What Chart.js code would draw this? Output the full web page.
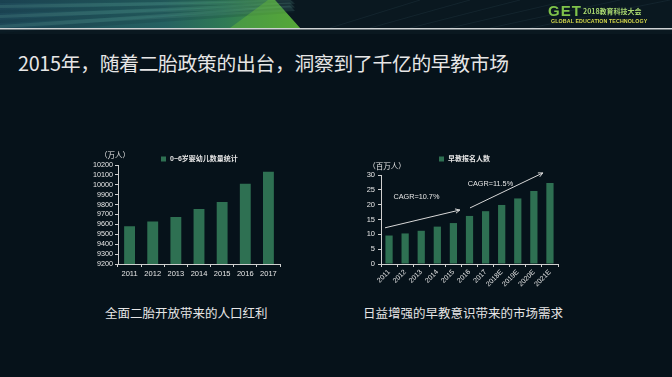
<!DOCTYPE html>
<html><head><meta charset="utf-8">
<script src="https://cdn.jsdelivr.net/npm/chart.js@4/dist/chart.umd.min.js"></script>
<style>
html,body{margin:0;padding:0;background:#06121a;}
#page{position:relative;width:672px;height:377px;background:#06121a;overflow:hidden;font-family:'Noto Sans CJK SC','Liberation Sans',sans-serif;}
#hdr{position:absolute;left:0;top:0;}
.t{position:absolute;white-space:nowrap;color:#e6e6e6;}
#title{left:18px;top:50px;font-size:19.8px;line-height:26px;letter-spacing:-0.3px;}
#s1{left:105px;top:304px;font-size:12.5px;line-height:18px;}
#s2{left:363px;top:304px;font-size:12.5px;line-height:18px;}
#c1wrap{position:absolute;left:88px;top:145px;width:200px;height:140px;}
#c2wrap{position:absolute;left:355px;top:150px;width:210px;height:140px;}
#logo1{position:absolute;left:548px;top:2px;font-family:'Liberation Sans',sans-serif;font-weight:bold;font-size:15px;color:#7fc24a;letter-spacing:1px;}
#logo2{position:absolute;left:583px;top:6px;font-size:7px;color:#a9d870;font-weight:bold;}
#logo3{position:absolute;left:551px;top:18px;font-family:'Liberation Sans',sans-serif;font-size:5.3px;font-weight:bold;color:#d6d84a;letter-spacing:0.1px;}
</style></head>
<body><div id="page">
<canvas id="hdr" width="672" height="34"></canvas>
<div id="logo1">GET</div>
<div id="logo2">2018教育科技大会</div>
<div id="logo3">GLOBAL EDUCATION TECHNOLOGY</div>
<div class="t" id="title">2015年，随着二胎政策的出台，洞察到了千亿的早教市场</div>
<div id="c1wrap"><canvas id="c1"></canvas></div>
<div id="c2wrap"><canvas id="c2"></canvas></div>
<div class="t" id="s1">全面二胎开放带来的人口红利</div>
<div class="t" id="s2">日益增强的早教意识带来的市场需求</div>
</div>
<script>
// ---------- data ----------
const years1 = ['2011','2012','2013','2014','2015','2016','2017'];
const infants = [9582, 9630, 9676, 9756, 9826, 10010, 10132];
const label1 = '0~6岁婴幼儿数量统计';
const unit1 = '（万人）';

const years2 = ['2011','2012','2013','2014','2015','2016','2017','2018E','2019E','2020E','2021E'];
const enrol = [9.6, 10.3, 11.2, 12.6, 13.8, 16.2, 17.8, 19.9, 22.1, 24.6, 27.3];
const label2 = '早教报名人数';
const unit2 = '（百万人）';
const cagrTexts = ['CAGR=10.7%', 'CAGR=11.5%'];
// arrow endpoints in data space [index, value]
const arrows = [[[-0.25, 12.2],[4.4, 18.2]], [[5.03, 18.9],[9.56, 30.7]]];
const cagrPos = [[1.7, 22.6],[6.3, 27.0]];

// ---------- header decoration ----------
(function(){
  const c = document.getElementById('hdr').getContext('2d');
  c.fillStyle = '#0a1820'; c.fillRect(0,0,672,34);
  const g = c.createLinearGradient(0,0,300,0);
  g.addColorStop(0,'#1d4757'); g.addColorStop(0.55,'#256161'); g.addColorStop(0.75,'#2f7a55'); g.addColorStop(1,'#4c9c36');
  c.fillStyle = g;
  c.beginPath(); c.moveTo(0,0); c.lineTo(275,0); c.lineTo(300,28); c.lineTo(0,28); c.closePath(); c.fill();
  c.globalAlpha = 0.18;
  for (let i=0;i<7;i++){
    c.fillStyle = i%2? '#6fb0a0':'#0e2f3a';
    c.beginPath(); c.moveTo(0,i*5); c.lineTo(290,-2+i*1.5); c.lineTo(295,2+i*1.8); c.lineTo(0,i*5+3); c.closePath(); c.fill();
  }
  c.globalAlpha = 0.5;
  c.fillStyle = '#5fb33a';
  c.beginPath(); c.moveTo(230,28); c.lineTo(268,0); c.lineTo(275,0); c.lineTo(300,28); c.closePath(); c.fill();
  c.globalAlpha = 0.15; c.strokeStyle = '#4a6a7a'; c.lineWidth = 1;
  for (let i=0;i<6;i++){ c.beginPath(); c.moveTo(330+i*40,28); c.lineTo(420+i*50,0); c.stroke(); }
  c.globalAlpha = 1;
  c.fillStyle = '#cfd3d4'; c.fillRect(0,28,672,1.5);
})();

// ---------- charts ----------
const FONT = "'Liberation Sans','Noto Sans CJK SC',sans-serif";
const AX = '#d0d0d0';
const BAR = '#2e7052';
const plain = v => String(v);

function deco(legendX, legendY, unit, unitX, unitY, extra){
  return {
    id:'deco',
    afterDraw(chart){
      const c = chart.ctx, a = chart.chartArea, ds = chart.data.datasets[0];
      c.save();
      c.fillStyle = ds.backgroundColor;
      c.fillRect(a.left+legendX, a.top+legendY-2.5, 5, 5);
      c.fillStyle = '#e6e6e6';
      c.font = 'bold 7px ' + FONT;
      c.textBaseline = 'middle'; c.textAlign = 'left';
      c.fillText(ds.label, a.left+legendX+9, a.top+legendY);
      c.font = '7.5px ' + FONT;
      c.textAlign = 'center';
      c.fillText(unit, a.left+unitX, a.top+unitY);
      if (extra) extra(chart);
      c.restore();
    }
  };
}

new Chart(document.getElementById('c1'), {
  type:'bar',
  data:{labels:years1, datasets:[{label:label1, data:infants, backgroundColor:BAR, barPercentage:0.47, categoryPercentage:1}]},
  options:{
    responsive:true, maintainAspectRatio:false, animation:false,
    layout:{padding:{top:20,right:8,bottom:0,left:0}},
    plugins:{legend:{display:false}, tooltip:{enabled:false}},
    scales:{
      x:{grid:{drawOnChartArea:false, color:AX, tickLength:3}, border:{color:AX, width:1},
         ticks:{color:'#e6e6e6', font:{size:7.5, family:FONT}, padding:2, maxRotation:0}, afterFit(s){s.height=21;}},
      y:{min:9200, max:10200, grid:{drawOnChartArea:false, color:AX, tickLength:3}, border:{color:AX, width:1},
         ticks:{stepSize:100, autoSkip:false, callback:plain, color:'#e6e6e6', font:{size:7.2, family:FONT}, padding:2}, afterFit(s){s.width=30;}}
    }
  },
  plugins:[deco(43, -6, unit1, -3, -9)]
});

function drawArrows(chart){
  const c = chart.ctx, xs = chart.scales.x, ys = chart.scales.y;
  c.strokeStyle = '#d8d8d8'; c.lineWidth = 1;
  arrows.forEach(([p,q])=>{
    const x1 = xs.getPixelForValue(p[0]), y1 = ys.getPixelForValue(p[1]);
    const x2 = xs.getPixelForValue(q[0]), y2 = ys.getPixelForValue(q[1]);
    c.beginPath(); c.moveTo(x1,y1); c.lineTo(x2,y2); c.stroke();
    const ang = Math.atan2(y2-y1, x2-x1), L = 5;
    c.beginPath();
    c.moveTo(x2 - L*Math.cos(ang-0.45), y2 - L*Math.sin(ang-0.45));
    c.lineTo(x2,y2);
    c.lineTo(x2 - L*Math.cos(ang+0.45), y2 - L*Math.sin(ang+0.45));
    c.stroke();
  });
  c.fillStyle = '#e6e6e6'; c.font = '7.3px ' + FONT; c.textAlign='center'; c.textBaseline='middle';
  cagrTexts.forEach((t,i)=>{
    c.fillText(t, xs.getPixelForValue(cagrPos[i][0]), ys.getPixelForValue(cagrPos[i][1]));
  });
}

new Chart(document.getElementById('c2'), {
  type:'bar',
  data:{labels:years2, datasets:[{label:label2, data:enrol, backgroundColor:BAR, barPercentage:0.45, categoryPercentage:1}]},
  options:{
    responsive:true, maintainAspectRatio:false, animation:false,
    layout:{padding:{top:25,right:7,bottom:0,left:0}},
    plugins:{legend:{display:false}, tooltip:{enabled:false}},
    scales:{
      x:{grid:{drawOnChartArea:false, color:AX, tickLength:3}, border:{color:AX, width:1},
         ticks:{color:'#e6e6e6', font:{size:7, family:FONT}, padding:1, minRotation:45, maxRotation:45, autoSkip:false}, afterFit(s){s.height=26;}},
      y:{min:0, max:30, grid:{drawOnChartArea:false, color:AX, tickLength:3}, border:{color:AX, width:1},
         ticks:{stepSize:5, autoSkip:false, callback:plain, color:'#e6e6e6', font:{size:7.5, family:FONT}, padding:3}, afterFit(s){s.width=26;}}
    }
  },
  plugins:[deco(58, -16, unit2, 6, -8, drawArrows)]
});
</script>
</body></html>
